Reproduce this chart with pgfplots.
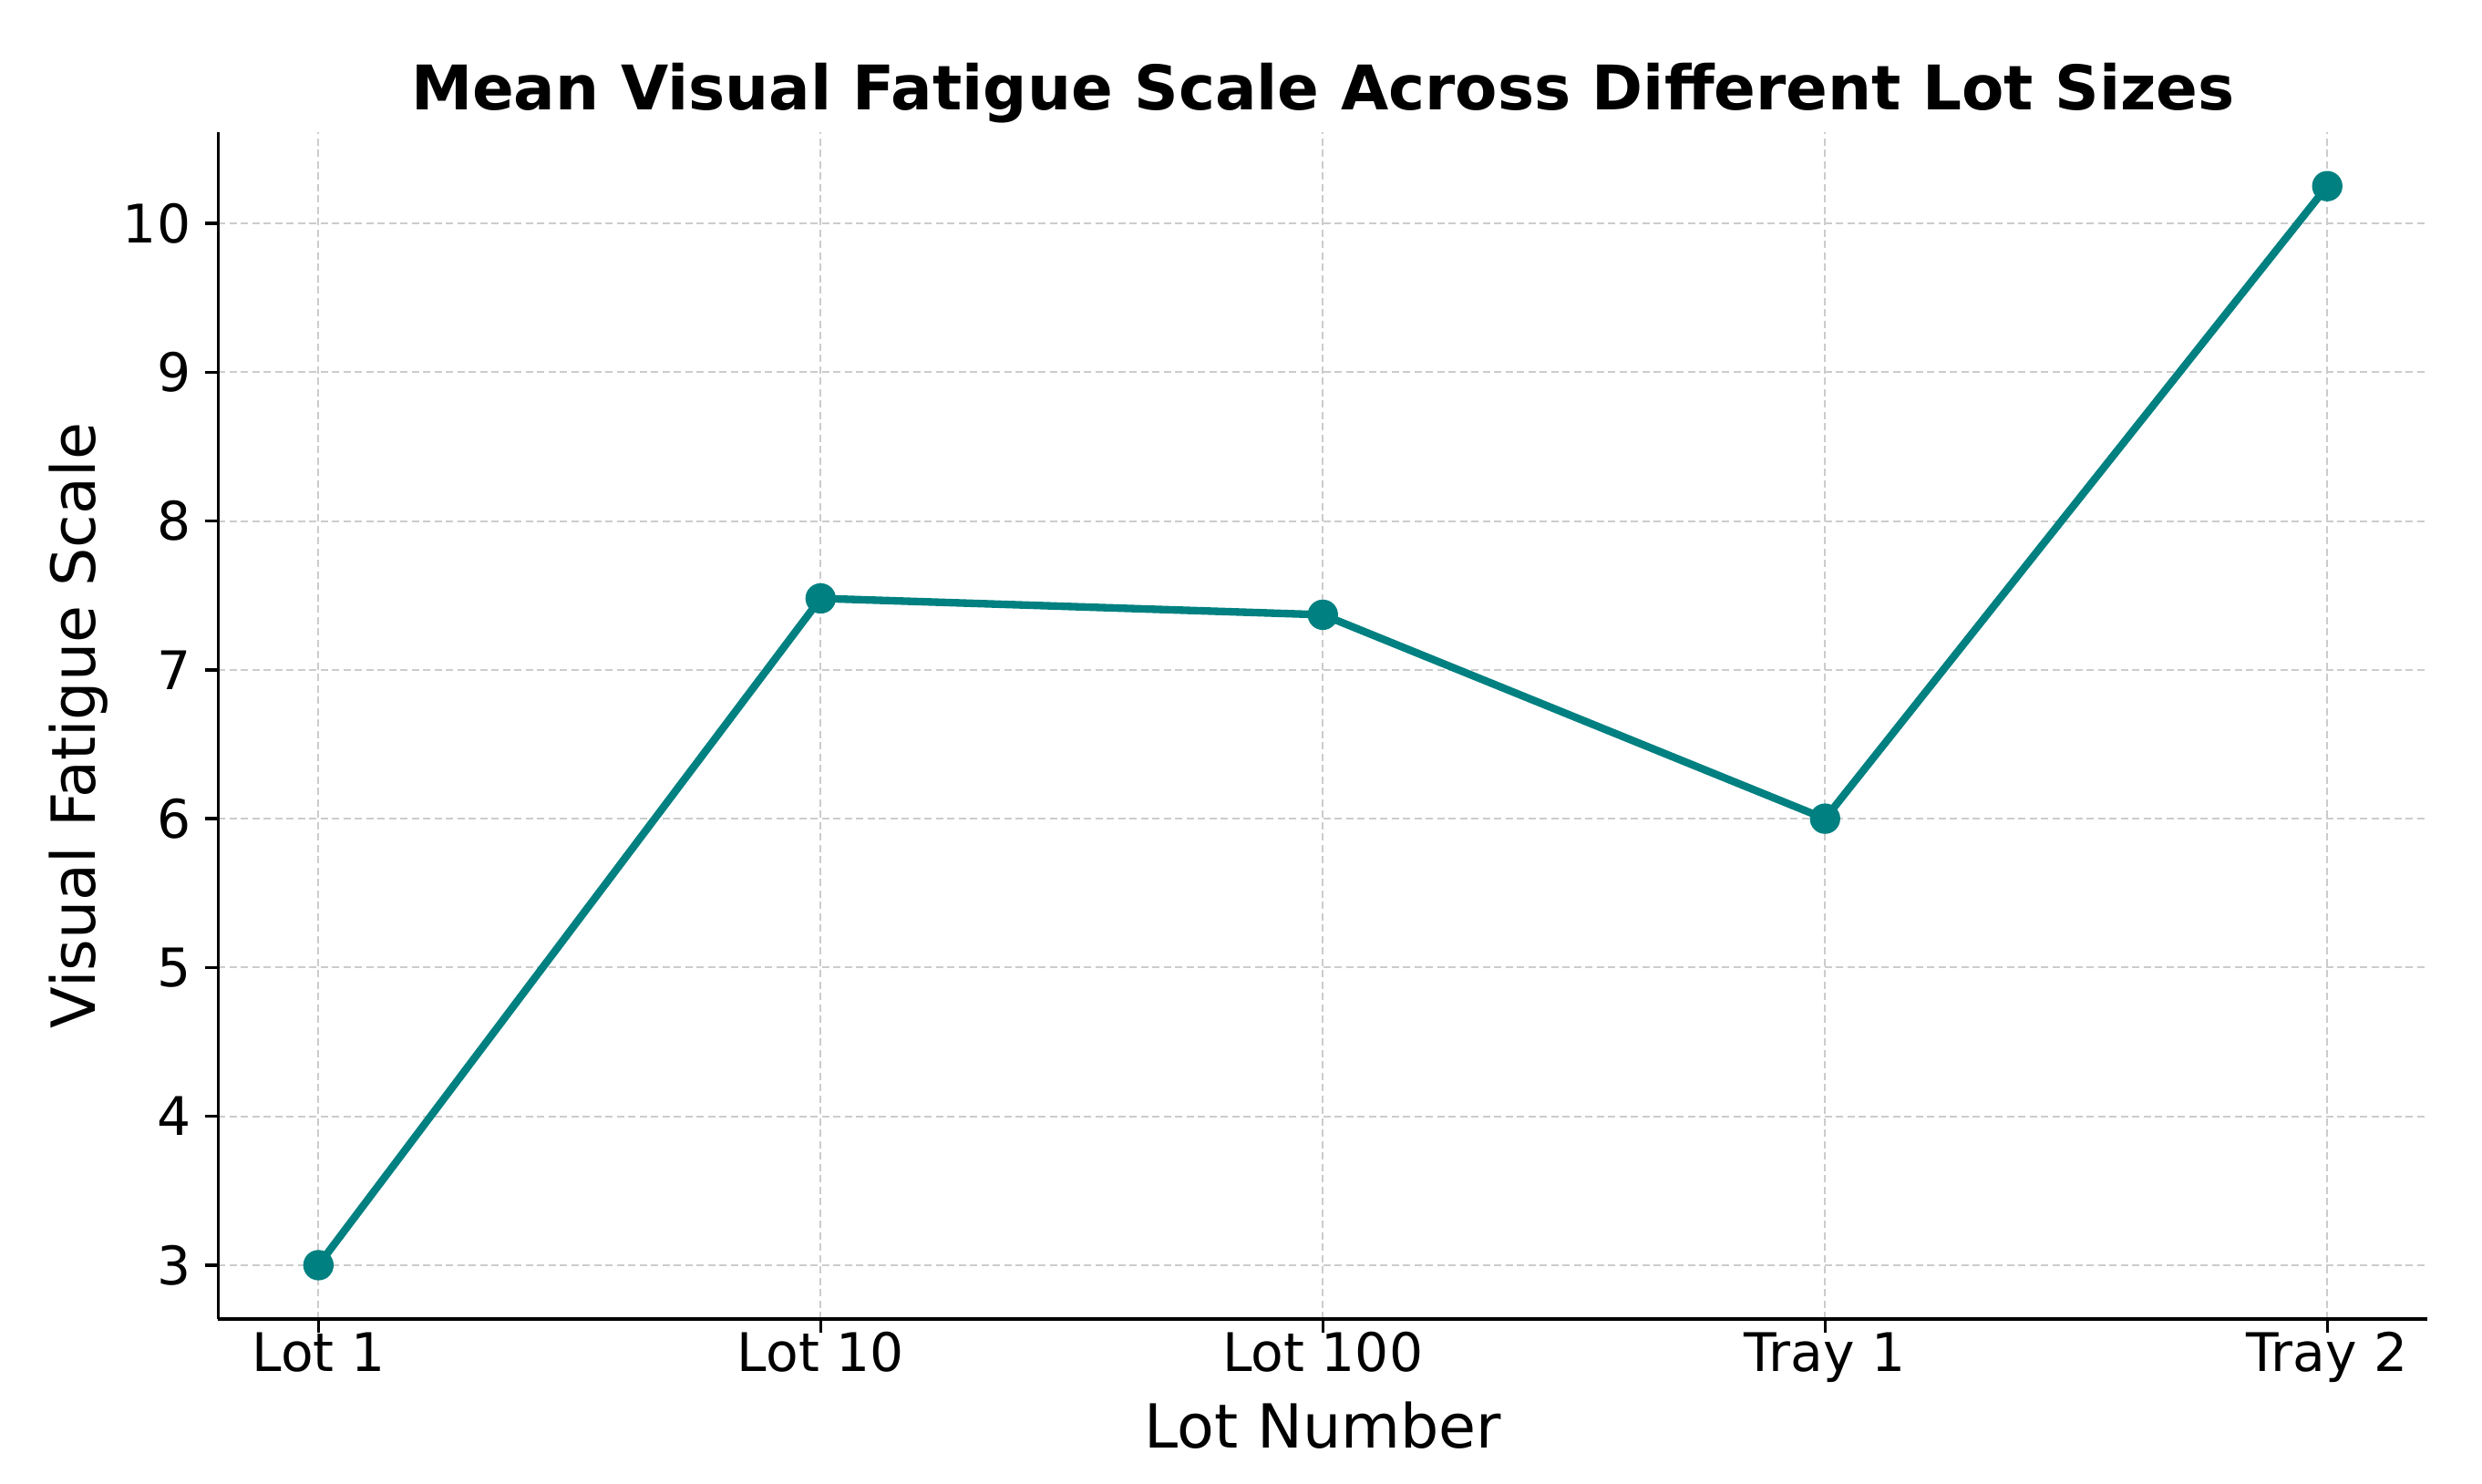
\documentclass[border=0pt]{standalone}
\usepackage{pgfplots}
\pgfplotsset{compat=1.18}
\usepackage{fontspec}
\setmainfont{DejaVu Sans}
\definecolor{mteal}{HTML}{008080}
\begin{document}
\begin{tikzpicture}
\path[use as bounding box] (-57.4pt,-43.4pt) rectangle (596.1pt,347.3pt);
\begin{axis}[
  at={(0pt,0pt)}, anchor=south west,
  scale only axis, width=581.8pt, height=312.5pt,
  xmin=-0.2, xmax=4.2, ymin=2.6375, ymax=10.6125,
  xtick={0,1,2,3,4},
  xticklabels={Lot 1, Lot 10, Lot 100, Tray 1, Tray 2},
  ytick={3,4,5,6,7,8,9,10},
  axis lines=left,
  axis line style={-, line width=0.8pt, black},
  tick align=outside,
  major tick length=3.5pt,
  tick style={black, line width=0.8pt},
  grid=major,
  major grid style={dash pattern=on 1.9pt off 1.1pt, black!20, line width=0.5pt},
  /pgf/number format/assume math mode=true,
  tick label style={font=\fontsize{14}{17}\selectfont},
  xticklabel style={anchor=base, inner sep=0pt, yshift=-10.2pt},
  yticklabel style={anchor=east, inner sep=0pt, xshift=-3.5pt},
  title={Mean Visual Fatigue Scale Across Different Lot Sizes},
  title style={font=\bfseries\fontsize{16.2}{19}\selectfont, at={(axis description cs:0.5,1)}, anchor=base, inner sep=0pt, yshift=-0.2pt},
  xlabel={Lot Number},
  ylabel={Visual Fatigue Scale},
  label style={font=\fontsize{16}{19}\selectfont},
  xlabel style={at={(axis description cs:0.5,0)}, anchor=base, inner sep=0pt, yshift=-34pt},
  ylabel style={at={(axis description cs:-0.05569,0.5)}, anchor=base, inner sep=0pt},
]
\addplot[color=mteal, line width=2pt, mark=*, mark size=3.75pt,
  mark options={solid, fill=mteal, draw=mteal, line width=0.5pt}]
  coordinates {(0,3.0) (1,7.48) (2,7.37) (3,6.0) (4,10.25)};
\end{axis}
\end{tikzpicture}
\end{document}
